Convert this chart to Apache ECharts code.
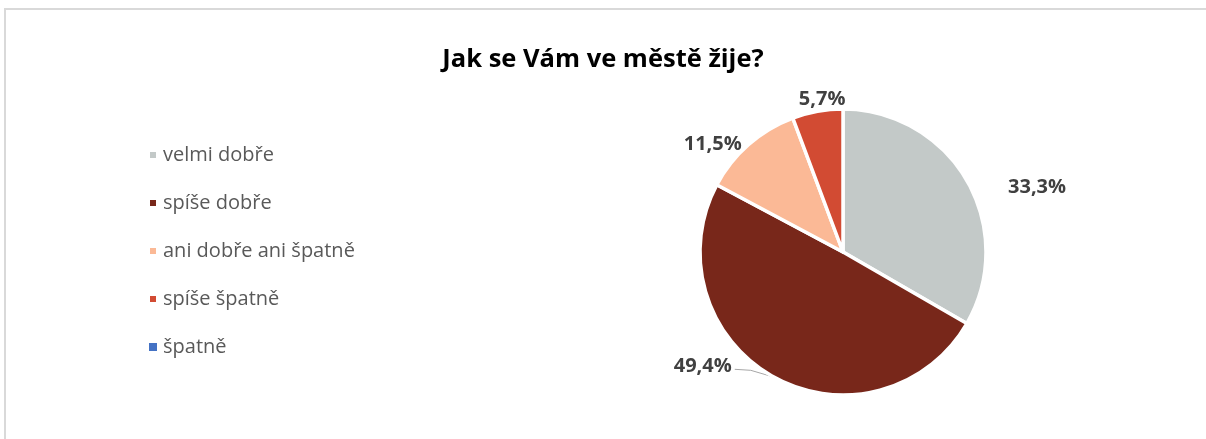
<!DOCTYPE html>
<html>
<head>
    <meta charset="UTF-8">
    <title>Jak se Vám ve městě žije?</title>
    <script src="https://cdn.jsdelivr.net/npm/echarts@6/dist/echarts.min.js"></script>
    <style>
        html, body { margin: 0; padding: 0; background: #fff; overflow: hidden; }
        #frame { position: absolute; left: 4px; top: 8px; width: 1220px; height: 450px;
                 border-left: 2px solid #d9d9d9; border-top: 2px solid #d9d9d9; }
        #pie { position: absolute; left: 0; top: 0; width: 1206px; height: 439px; }
    </style>
</head>
<body>
<div id="frame"></div>
<div id="pie"></div>
<script>
// odpovědi a podíly v %
var categories = ['velmi dobře', 'spíše dobře', 'ani dobře ani špatně', 'spíše špatně', 'špatně'];
var shares = [33.3, 49.4, 11.5, 5.7, 0];
var colors = ['#c3c9c8', '#78271a', '#fbb996', '#d24b33', '#4472c4'];

var chart = echarts.init(document.getElementById('pie'), null, {renderer: 'canvas'});

var data = categories.map(function (name, i) {
    var item = {name: name, value: shares[i], itemStyle: {color: colors[i]}};
    if (shares[i] === 0) {
        item.label = {show: false};
        item.itemStyle.borderWidth = 0;
    }
    // jen u největšího výseku je vidět vodicí čára
    if (i !== 1) {
        item.labelLine = {show: false};
    }
    return item;
});

// posuny popisků, aby seděly jako v Excelu
var shift = [[13, 10], [-16, -16], [20, 4], [52, -6], [0, 0]];

chart.setOption({
    animation: false,
    title: {
        text: 'Jak se Vám ve městě žije?',
        left: 'center',
        top: 42,
        padding: [5, 0, 5, 10],
        textStyle: {fontFamily: 'Open Sans', fontSize: 25.5, fontWeight: 'bold', color: '#000'}
    },
    legend: {
        orient: 'vertical',
        left: 143,
        top: 140,
        itemGap: 28,
        itemWidth: 8,
        itemHeight: 8,
        icon: 'rect',
        textStyle: {fontFamily: 'Open Sans', fontSize: 20, color: '#595959', padding: [0, 0, 0, 1]},
        data: categories
    },
    series: [{
        type: 'pie',
        center: [843, 252],
        radius: 143,
        startAngle: 90,
        clockwise: true,
        stillShowZeroSum: false,
        avoidLabelOverlap: false,
        itemStyle: {borderColor: '#fff', borderWidth: 3.5},
        label: {
            position: 'outside',
            fontFamily: 'Open Sans',
            fontSize: 20,
            fontWeight: 'bold',
            color: '#404040',
            formatter: function (p) { return p.value.toFixed(1).replace('.', ',') + '%'; }
        },
        labelLine: {length: 6, length2: 18, lineStyle: {color: '#a6a6a6', width: 1}},
        labelLayout: function (p) {
            var s = shift[p.dataIndex] || [0, 0];
            var out = {dx: s[0], dy: s[1]};
            if (p.labelLinePoints && p.dataIndex === 1) {
                // čára od okraje výseku k pravému konci posunutého popisku
                var r = p.labelRect;
                var ex = r.x + r.width + s[0] + 3;
                var ey = r.y + r.height / 2 + s[1] + 3;
                out.labelLinePoints = [p.labelLinePoints[0], [ex + 16, ey + 1], [ex, ey]];
            }
            return out;
        },
        data: data
    }]
});
</script>
</body>
</html>
